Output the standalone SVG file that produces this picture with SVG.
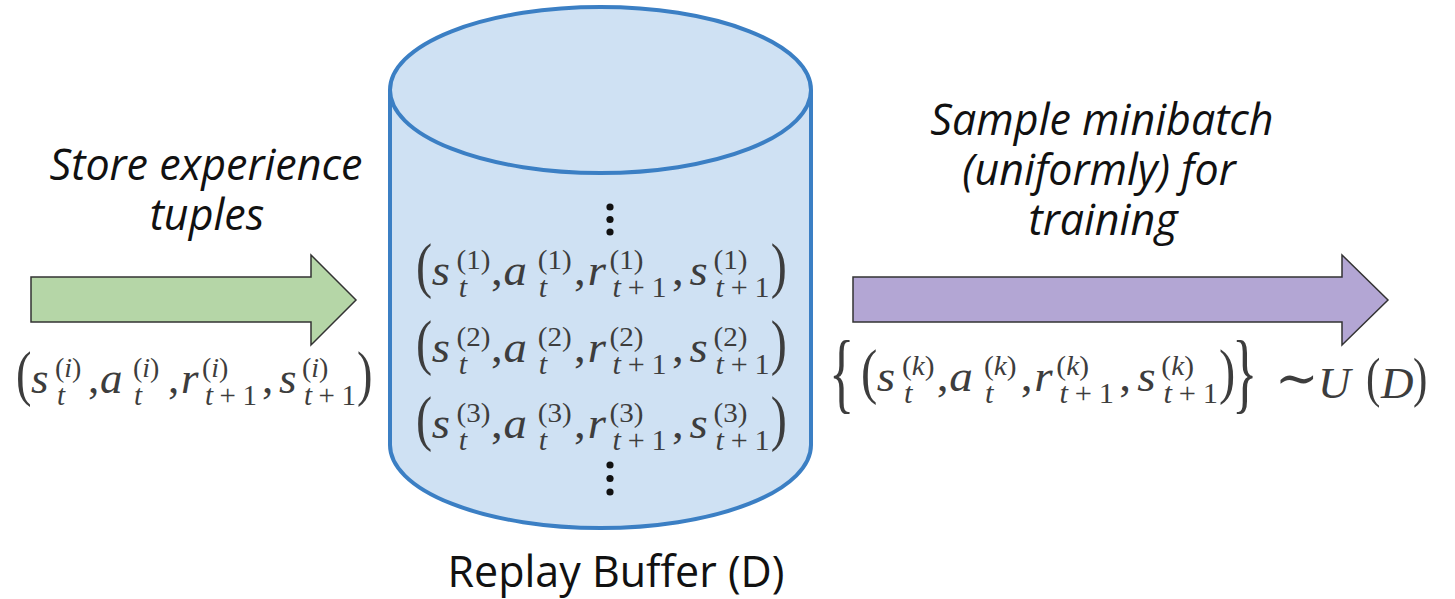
<svg xmlns="http://www.w3.org/2000/svg" xmlns:xlink="http://www.w3.org/1999/xlink" width="1455" height="599" viewBox="0 0 1455 599">
  <style>
    .label { font-family: "Open Sans", "Liberation Sans", sans-serif; fill: #111; text-anchor: middle; }
    .lab-it { font-style: italic; font-size: 43px; }
    .lab-rm { font-size: 43px; }
    .m { font-family: "Liberation Serif", "DejaVu Serif", serif; fill: #3d3d3d; }
    .mp { font-size: 62px; }
    .mi { font-size: 45px; font-style: italic; }
    .mr { font-size: 45px; }
    .ms { font-size: 29px; font-style: italic; }
    .sup { font-size: 28px; }
    .brace { font-size: 88px; }
    .up { font-style: normal; }
    .it { font-style: italic; }
    .arrow { stroke: #333; stroke-width: 1.5; stroke-linejoin: miter; }
    .cyl { fill: #cfe1f3; stroke: #3b7fc4; stroke-width: 4; }
    .dot { fill: #111; }
  </style>
  <defs>
    <!-- tuple body (s_t, a_t, r_{t+1}, s_{t+1}); origin = left paren, main baseline -->
    <g id="tuple" class="m">
      <text class="mp" transform="translate(1,1) scale(0.75,1)">(</text>
      <text class="mi" x="16" y="0">s</text>
      <text class="ms" x="42" y="12">t</text>
      <text class="mr" x="73" y="0">,</text>
      <text class="mi" x="85" y="0">a</text>
      <text class="ms" x="119" y="12">t</text>
      <text class="mr" x="153" y="0">,</text>
      <text class="mi" x="166" y="0">r</text>
      <text class="ms" x="190" y="12" textLength="52" lengthAdjust="spacing">t<tspan class="up">+1</tspan></text>
      <text class="mr" x="247" y="0">,</text>
      <text class="mi" x="264" y="0">s</text>
      <text class="ms" x="289" y="12" textLength="52" lengthAdjust="spacing">t<tspan class="up">+1</tspan></text>
      <text class="mp" transform="translate(342,1) scale(0.75,1)">)</text>
    </g>
  </defs>

  <rect width="1455" height="599" fill="#fff"/>

  <!-- incoming arrow -->
  <g id="store-arrow">
    <polygon class="arrow" fill="#b5d6a7" points="31,277 311,277 311,255 356,300 311,345 311,322 31,322"/>
    <text class="label lab-it"><tspan x="206" y="180">Store experience</tspan><tspan x="207" y="230">tuples</tspan></text>
    <g class="m" transform="translate(15,393)">
      <use xlink:href="#tuple"/>
      <text class="sup" x="40" y="-16">(<tspan class="it">i</tspan>)</text>
      <text class="sup" x="118" y="-16">(<tspan class="it">i</tspan>)</text>
      <text class="sup" x="187" y="-16">(<tspan class="it">i</tspan>)</text>
      <text class="sup" x="287" y="-16">(<tspan class="it">i</tspan>)</text>
    </g>
  </g>

  <!-- replay buffer cylinder -->
  <g id="replay-buffer">
    <path class="cyl" d="M390,90 V445 A210.5,83 0 0 0 811,445 V90"/>
    <ellipse class="cyl" cx="600.5" cy="90" rx="210.5" ry="83"/>
    <circle class="dot" cx="610" cy="207" r="3.6"/>
    <circle class="dot" cx="610" cy="219.5" r="3.6"/>
    <circle class="dot" cx="610" cy="232" r="3.6"/>
    <g class="m" transform="translate(415,285) scale(1.04,1)">
      <use xlink:href="#tuple"/>
      <text class="sup" x="40" y="-16">(1)</text>
      <text class="sup" x="118" y="-16">(1)</text>
      <text class="sup" x="187" y="-16">(1)</text>
      <text class="sup" x="287" y="-16">(1)</text>
    </g>
    <g class="m" transform="translate(415,362) scale(1.04,1)">
      <use xlink:href="#tuple"/>
      <text class="sup" x="40" y="-16">(2)</text>
      <text class="sup" x="118" y="-16">(2)</text>
      <text class="sup" x="187" y="-16">(2)</text>
      <text class="sup" x="287" y="-16">(2)</text>
    </g>
    <g class="m" transform="translate(415,438) scale(1.04,1)">
      <use xlink:href="#tuple"/>
      <text class="sup" x="40" y="-16">(3)</text>
      <text class="sup" x="118" y="-16">(3)</text>
      <text class="sup" x="187" y="-16">(3)</text>
      <text class="sup" x="287" y="-16">(3)</text>
    </g>
    <circle class="dot" cx="610" cy="465" r="3.6"/>
    <circle class="dot" cx="610" cy="478.5" r="3.6"/>
    <circle class="dot" cx="610" cy="492" r="3.6"/>
    <text class="label lab-rm" x="616" y="587">Replay Buffer (D)</text>
  </g>

  <!-- outgoing sampling arrow -->
  <g id="sample-arrow">
    <polygon class="arrow" fill="#b3a6d4" points="853,277 1342,277 1342,255 1388,300 1342,345 1342,322 853,322"/>
    <text class="label lab-it"><tspan x="1102" y="135">Sample minibatch</tspan><tspan x="1099" y="185">(uniformly) for</tspan><tspan x="1103" y="235">training</tspan></text>
    <g class="m">
      <text class="brace" transform="translate(829,402) scale(0.6,1)">{</text>
      <g transform="translate(860,391) scale(1.05,1)">
        <use xlink:href="#tuple"/>
        <text class="sup" x="40" y="-16">(<tspan class="it">k</tspan>)</text>
        <text class="sup" x="118" y="-16">(<tspan class="it">k</tspan>)</text>
        <text class="sup" x="187" y="-16">(<tspan class="it">k</tspan>)</text>
        <text class="sup" x="287" y="-16">(<tspan class="it">k</tspan>)</text>
      </g>
      <text class="brace" transform="translate(1232,402) scale(0.6,1)">}</text>
      <text class="mr" x="1275" y="396" style="font-size:52px">∼</text>
      <text class="mi" x="1318" y="398">U</text>
      <text class="mr" transform="translate(1366,396) scale(0.8,1)" style="font-size:54px">(</text>
      <text class="mi" x="1381" y="398">D</text>
      <text class="mr" transform="translate(1413,396) scale(0.8,1)" style="font-size:54px">)</text>
    </g>
  </g>
</svg>
